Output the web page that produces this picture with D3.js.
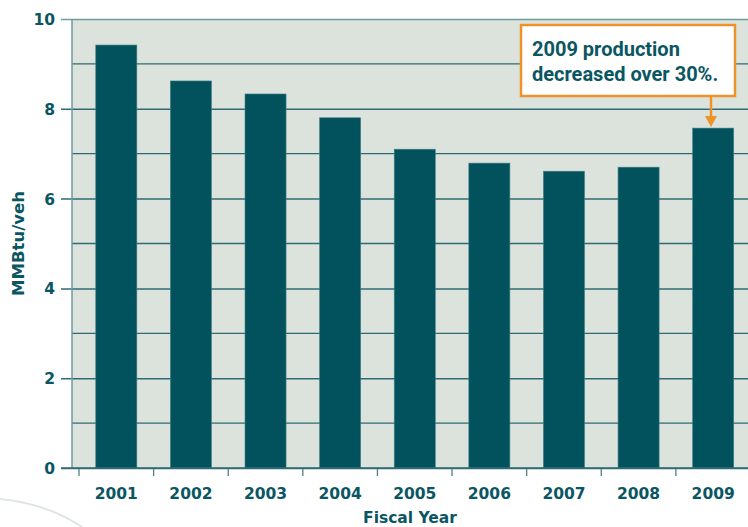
<!DOCTYPE html>
<html><head><meta charset="utf-8">
<script src="https://cdn.jsdelivr.net/npm/d3@7"></script>
<style>body{margin:0;background:#fff}svg{display:block}</style>
</head><body>
<script>
const categories = ["2001","2002","2003","2004","2005","2006","2007","2008","2009"];
const values = [9.42, 8.62, 8.33, 7.80, 7.10, 6.79, 6.61, 6.70, 7.57];
const yTicks = [0, 2, 4, 6, 8, 10];
const yMinor = [1, 3, 5, 7, 9];
const yTitle = "MMBtu/veh";
const xTitle = "Fiscal Year";
const note = ["2009 production", "decreased over 30%."];

(function () {
const W = 748, H = 527;
const teal = "#02525e", txt = "#0a5662";
const heavy = "DejaVu Sans, sans-serif";
const svg = d3.select("body").append("svg").attr("width", W).attr("height", H);

// decorative arc
svg.append("path").attr("d", "M0,499 Q48,504 82,527").attr("fill", "none")
  .attr("stroke", "#dfe6df").attr("stroke-width", 2);

const plotL = 72, plotR = 748, pTop = 19, pBottom = 468;
const y = d3.scaleLinear().domain([0, 10]).range([pBottom, pTop]);
const x = d3.scaleBand().domain(categories).range([79, 750.5]).paddingInner(0.45).paddingOuter(0.225);
const xb = d3.scaleBand().domain(categories).range([79, 750.5]);

svg.append("rect").attr("x", plotL).attr("y", pTop).attr("width", plotR - plotL).attr("height", pBottom - pTop).attr("fill", "#dbe3dc");

// minor gridlines
svg.selectAll(".minor").data(yMinor).join("line")
  .attr("x1", plotL).attr("x2", plotR).attr("y1", d => y(d)).attr("y2", d => y(d))
  .attr("stroke", "#2f6b74").attr("stroke-width", 1.3);

// y axis
const yAxis = d3.axisLeft(y).tickValues(yTicks).tickSize(plotR - 61).tickPadding(6);
const gy = svg.append("g").attr("transform", `translate(${plotR},0)`).call(yAxis);
gy.select(".domain").remove();
gy.selectAll(".tick line").attr("stroke", d => d === 10 ? "#6f9a9e" : "#2f6b74").attr("stroke-width", 1.5);
gy.selectAll(".tick text").attr("fill", txt).attr("font-family", heavy)
  .attr("font-weight", "bold").attr("font-size", 15.5).attr("dy", "0.36em");

// left plot border
svg.append("line").attr("x1", plotL).attr("x2", plotL).attr("y1", pTop).attr("y2", pBottom)
  .attr("stroke", "#6f9a9e").attr("stroke-width", 1.5);

// bars
svg.selectAll(".bar").data(values).join("rect")
  .attr("x", (d, i) => x(categories[i])).attr("width", x.bandwidth())
  .attr("y", d => y(d)).attr("height", d => pBottom - y(d))
  .attr("fill", teal).attr("stroke", "#3f7e86").attr("stroke-width", 0.6);

// x axis
svg.append("line").attr("x1", 61).attr("x2", plotR).attr("y1", pBottom).attr("y2", pBottom)
  .attr("stroke", "#2f6b74").attr("stroke-width", 1.5);
svg.selectAll(".xt").data(categories).join("line")
  .attr("x1", d => xb(d)).attr("x2", d => xb(d)).attr("y1", pBottom + 1).attr("y2", pBottom + 8)
  .attr("stroke", "#4f8288").attr("stroke-width", 1.3);
svg.selectAll(".xl").data(categories).join("text")
  .attr("x", d => x(d) + x.bandwidth() / 2).attr("y", 499).attr("text-anchor", "middle")
  .attr("fill", txt).attr("font-family", heavy)
  .attr("font-weight", "bold").attr("font-size", 15.5).text(d => d);

svg.append("text").attr("x", 410).attr("y", 523).attr("text-anchor", "middle")
  .attr("fill", txt).attr("font-family", heavy)
  .attr("font-weight", "bold").attr("font-size", 15.5).text(xTitle);
svg.append("text").attr("transform", `translate(24,${(pTop + pBottom) / 2}) rotate(-90)`)
  .attr("text-anchor", "middle").attr("fill", txt).attr("font-family", heavy)
  .attr("font-weight", "bold").attr("font-size", 16.5).text(yTitle);

// annotation
const ax = 711;
svg.append("line").attr("x1", ax).attr("x2", ax).attr("y1", 97).attr("y2", 117)
  .attr("stroke", "#f0922a").attr("stroke-width", 2.5);
svg.append("path").attr("d", `M${ax - 6},116 L${ax + 6},116 L${ax},${y(values[values.length - 1]) - 1} Z`).attr("fill", "#f0922a");
svg.append("rect").attr("x", 521).attr("y", 25).attr("width", 214).attr("height", 71)
  .attr("fill", "#fff").attr("stroke", "#f0922a").attr("stroke-width", 2.5);
svg.selectAll(".note").data(note).join("text")
  .attr("x", 532).attr("y", (d, i) => 56 + i * 25)
  .attr("fill", txt).attr("font-family", "Roboto, sans-serif").attr("font-weight", "bold")
  .attr("font-size", 20).text(d => d);
})();
</script>
</body></html>
